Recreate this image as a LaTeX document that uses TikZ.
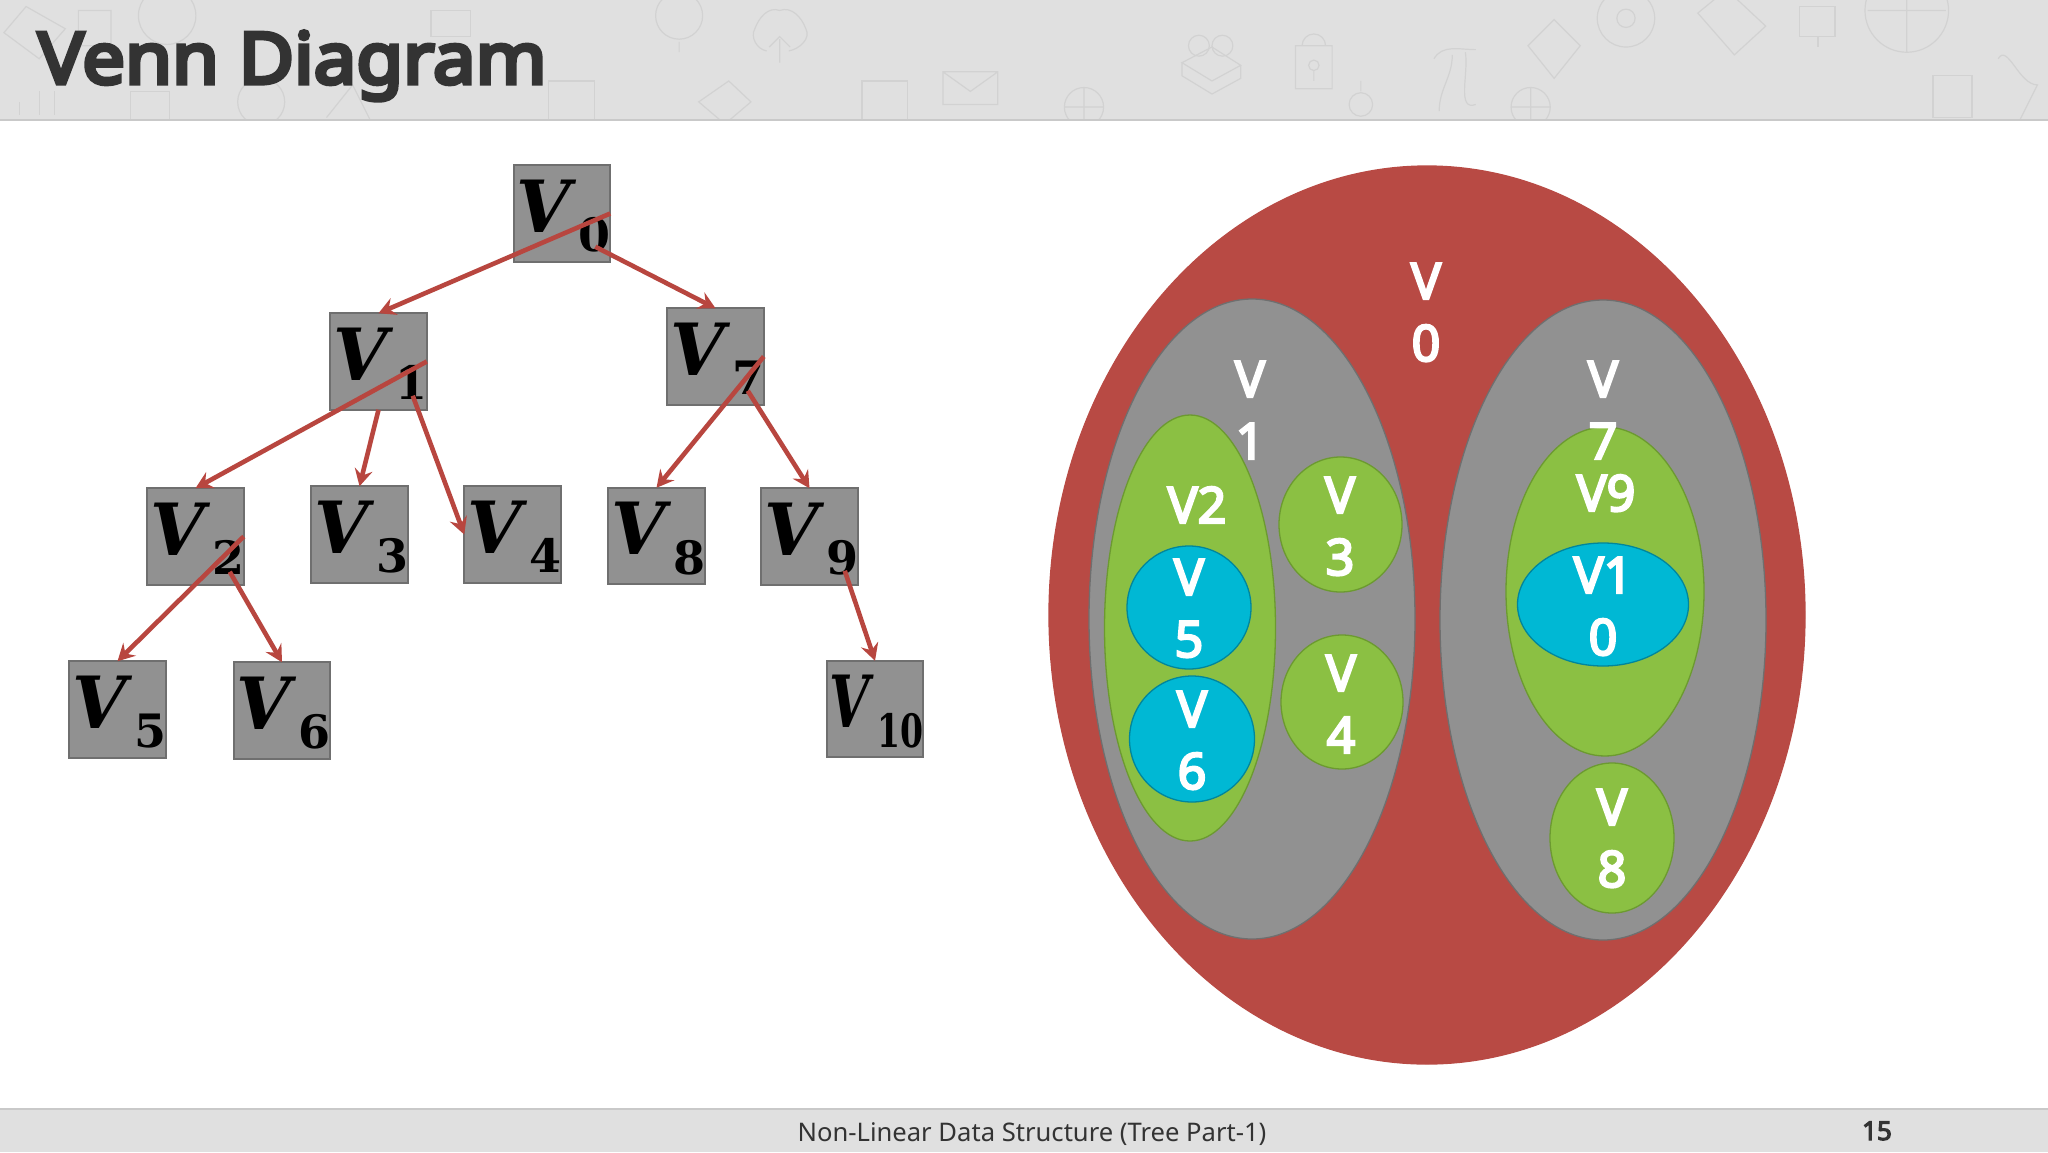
\documentclass[tikz,border=0pt]{standalone}
\usepackage{fontspec}
\setmainfont{Noto Sans}
\newfontfamily\vfont{DejaVu Serif}
\newfontfamily\titlefont{Noto Sans}[FakeBold=6,FakeStretch=1.07]
\newfontfamily\labfont{Noto Sans}[FakeBold=4.5]
\usetikzlibrary{arrows.meta,calc,shapes.geometric}
\definecolor{band}{HTML}{E0E0E0}
\definecolor{doodle}{HTML}{D2D2D2}
\definecolor{bandline}{HTML}{C9C9C9}
\definecolor{titlec}{HTML}{333333}
\definecolor{redc}{HTML}{B84A44}
\definecolor{redarrow}{HTML}{B8463F}
\definecolor{grayc}{HTML}{919191}
\definecolor{grayl}{HTML}{6F6F6F}
\definecolor{greenc}{HTML}{8BC043}
\definecolor{greenl}{HTML}{6C9A30}
\definecolor{bluec}{HTML}{00B8D4}
\definecolor{bluel}{HTML}{00869C}
\newcommand{\vlabel}[1]{\scalebox{0.97}[1]{\fontsize{72}{72}\vfont\bfseries\itshape V}\hfill\raisebox{-19.5pt}{\fontsize{46}{46}\vfont\bfseries #1}\hspace*{-3.5pt}}
\newcommand{\vlabelnarrow}[1]{\scalebox{0.72}[1]{\fontsize{72}{72}\vfont\bfseries\itshape V}\hfill\raisebox{-19.5pt}{\scalebox{0.72}[1]{\fontsize{46}{46}\vfont\bfseries #1}}\hspace*{-3pt}}
\tikzset{
  vbox/.style={draw=grayl,fill=grayc,line width=1.8pt,inner xsep=3pt,inner ysep=0pt,outer sep=0pt,
    text width=90.5pt,text height=67pt,text depth=29.5pt,text=black},
  link/.style={draw=redarrow,line width=4.6pt,-{Stealth[length=17pt,width=18pt,inset=6pt]}},
  ev/.style={ellipse,draw,line width=1.3pt,inner sep=0pt,outer sep=0pt},
  lab/.style={text=white,font=\fontsize{50}{62}\labfont,align=center,anchor=base,inner sep=0pt},
  dd/.style={draw=doodle,line width=1.2pt,fill=none},
}
\begin{document}
\begin{tikzpicture}[x=1pt,y=-1pt]
\useasboundingbox (0,0) rectangle (2048,1152);
\fill[white] (0,0) rectangle (2048,1152);
% header
\fill[band] (0,0) rectangle (2048,120);
\begin{scope}
\clip (0,0) rectangle (2048,119);
\begin{scope}[x=1.306pt,y=-1.306pt]
\draw[dd] (597,27) ++(-10,12) to[out=170,in=240] (578,22) to[out=70,in=160] (597,8) to[out=20,in=110] (617,22) to[out=300,in=10] (604,39);
\draw[dd] (597,48) -- (597,30) (589,36) -- (597,28) -- (605,36);
\draw[dd] (722,55) rectangle (764,80) (722,55) -- (743,70) -- (764,55);
\draw[dd] (992,35) rectangle (1020,68) (997,35) arc[start angle=180,end angle=360,radius=9] ;
\draw[dd] (1006,50) circle[radius=4] (1006,54) -- (1006,62);
\draw[dd] (905,48) -- (928,62) -- (950,50) -- (928,36) -- cycle (905,48) -- (905,58) -- (928,72) -- (950,60) -- (950,50);
\draw[dd] (918,35) circle[radius=8] (936,35) circle[radius=8];
\draw[dd] (1098,45) to[out=60,in=180] (1130,38) (1112,42) to[out=270,in=90] (1102,85) (1122,40) to[out=280,in=200] (1130,80);
\draw[dd] (1245,14) circle[radius=22] (1245,14) circle[radius=7];
\draw[dd] (1300,10) -- (1322,-8) -- (1352,20) -- (1328,42) -- cycle;
\draw[dd] (1378,5) rectangle (1405,28) (1392,28) -- (1392,36);
\draw[dd] (1460,8) circle[radius=32] (1430,8) -- (1490,8) (1460,-24) -- (1460,40);
\draw[dd] (1170,35) -- (1190,15) -- (1210,35) -- (1190,60) -- cycle;
\draw[dd] (520,12) circle[radius=18] (520,32) -- (520,40);
\draw[dd] (420,62) rectangle (455,92);
\draw[dd] (558,62) -- (575,78) -- (555,95) -- (535,78) -- cycle;
\draw[dd] (660,62) rectangle (695,95);
\draw[dd] (830,82) circle[radius=15] (815,82) -- (845,82) (830,67) -- (830,97);
\draw[dd] (1172,82) circle[radius=15] (1157,82) -- (1187,82) (1172,67) -- (1172,97);
\draw[dd] (1042,80) circle[radius=9] (1042,70) -- (1042,62);
\draw[dd] (1480,58) rectangle (1510,90);
\draw[dd] (1530,45) to[out=60,in=180] (1560,65) -- (1545,95);
\draw[dd] (60,8) rectangle (85,35) (20,5) -- (50,22) -- (30,45) -- (3,25) -- cycle;
\draw[dd] (128,12) circle[radius=22];
\draw[dd] (200,78) circle[radius=18] (250,90) -- (270,65) -- (285,95);
\draw[dd] (30,88) -- (30,70) (42,88) -- (42,70) (15,88) -- (15,78);
\draw[dd] (100,70) rectangle (130,95);
\draw[dd] (330,8) rectangle (360,28);
\end{scope}
\end{scope}
\draw[bandline,line width=2.4pt] (0,120) -- (2048,120);
\node[anchor=base west,inner sep=0pt,text=titlec,font=\fontsize{71}{71}\titlefont] (title) at (38,83.5) {Venn Diagram};
% boxes
\node[vbox] (v0) at (562,213.5) {\vlabel{0}};
\node[vbox] (v1) at (378.5,361.5) {\vlabel{1}};
\node[vbox] (v7) at (715.5,356.5) {\vlabel{7}};
\node[vbox] (v2) at (195.5,536.5) {\vlabel{2}};
\node[vbox] (v3) at (359.5,534.5) {\vlabel{3}};
\node[vbox] (v4) at (512.5,534.5) {\vlabel{4}};
\node[vbox] (v8) at (656.5,536) {\vlabel{8}};
\node[vbox] (v9) at (809.5,536.5) {\vlabel{9}};
\node[vbox] (v5) at (117.5,709.5) {\vlabel{5}};
\node[vbox] (v6) at (282,710.5) {\vlabel{6}};
\node[vbox] (v10) at (875,709) {\vlabelnarrow{10}};
% connector free ends
\coordinate (v0s) at ($(v0.south east)+(-15,-15)$);
\coordinate (v1s) at ($(v1.south east)+(-14,-14)$);
\coordinate (v7s) at ($(v7.south east)+(-16,-14)$);
\coordinate (v2s) at ($(v2.south east)+(-14,-13)$);
\coordinate (v9s) at ($(v9.south east)+(-13,-14)$);
% connectors
\draw[link] (v0.east) -- (v1.north);
\draw[link] (v0s) -- (v7.north);
\draw[link] (v1.east) -- (v2.north);
\draw[link] (v1.south) -- (v3.north);
\draw[link] (v1s) -- (v4.west);
\draw[link] (v7.east) -- (v8.north);
\draw[link] (v7s) -- (v9.north);
\draw[link] (v2.east) -- (v5.north);
\draw[link] (v2s) -- (v6.north);
\draw[link] (v9s) -- (v10.north);
% Venn
\node[ev,draw=redc,fill=redc,minimum width=756pt,minimum height=898pt] (e0) at (1427,615) {};
\node[ev,draw=grayl,fill=grayc,minimum width=326pt,minimum height=640pt] (e1) at (1252,619) {};
\node[ev,draw=grayl,fill=grayc,minimum width=326pt,minimum height=640pt] (e7) at (1603,620) {};
\node[ev,draw=greenl,fill=greenc,minimum width=171pt,minimum height=426pt] (e2) at (1190,628) {};
\node[ev,draw=bluel,fill=bluec,minimum width=124pt,minimum height=123pt] (e5) at (1189,607.5) {};
\node[ev,draw=bluel,fill=bluec,minimum width=125pt,minimum height=126pt] (e6) at (1192,739) {};
\node[ev,draw=greenl,fill=greenc,minimum width=123pt,minimum height=135pt] (e3) at (1340.5,524.5) {};
\node[ev,draw=greenl,fill=greenc,minimum width=122pt,minimum height=134pt] (e4) at (1342,702) {};
\node[ev,draw=greenl,fill=greenc,minimum width=198pt,minimum height=329pt] (e9) at (1605,591.5) {};
\node[ev,draw=bluel,fill=bluec,minimum width=171pt,minimum height=123pt] (e10) at (1603,604.5) {};
\node[ev,draw=greenl,fill=greenc,minimum width=124pt,minimum height=150pt] (e8) at (1612,838) {};
% Venn labels (anchored on the last line's baseline)
\node[lab] (t0) at (1426,361) {V\\0};
\node[lab] (t1) at (1250,459) {V\\1};
\node[lab] (t7) at (1603,459) {V\\7};
\node[lab] (t2) at (1197,523) {V2};
\node[lab] (t5) at (1189,657) {V\\5};
\node[lab] (t6) at (1192,789) {V\\6};
\node[lab] (t3) at (1340,575) {V\\3};
\node[lab] (t4) at (1341,753) {V\\4};
\node[lab] (t8) at (1612,887) {V\\8};
\node[lab] (t9) at (1606,511) {V9};
\node[lab] (t10) at (1603,655) {V1\\0};
% footer
\fill[band] (0,1109) rectangle (2048,1152);
\draw[bandline,line width=2pt] (0,1109) -- (2048,1109);
\node[anchor=base,inner sep=0pt,text=titlec,font=\fontsize{25.6}{26}\selectfont] (foot) at (1032,1141) {Non-Linear Data Structure (Tree Part-1)};
\node[anchor=base,inner sep=0pt,text=titlec,font=\fontsize{26}{26}\labfont] (page) at (1877,1140) {15};
\end{tikzpicture}
\end{document}
